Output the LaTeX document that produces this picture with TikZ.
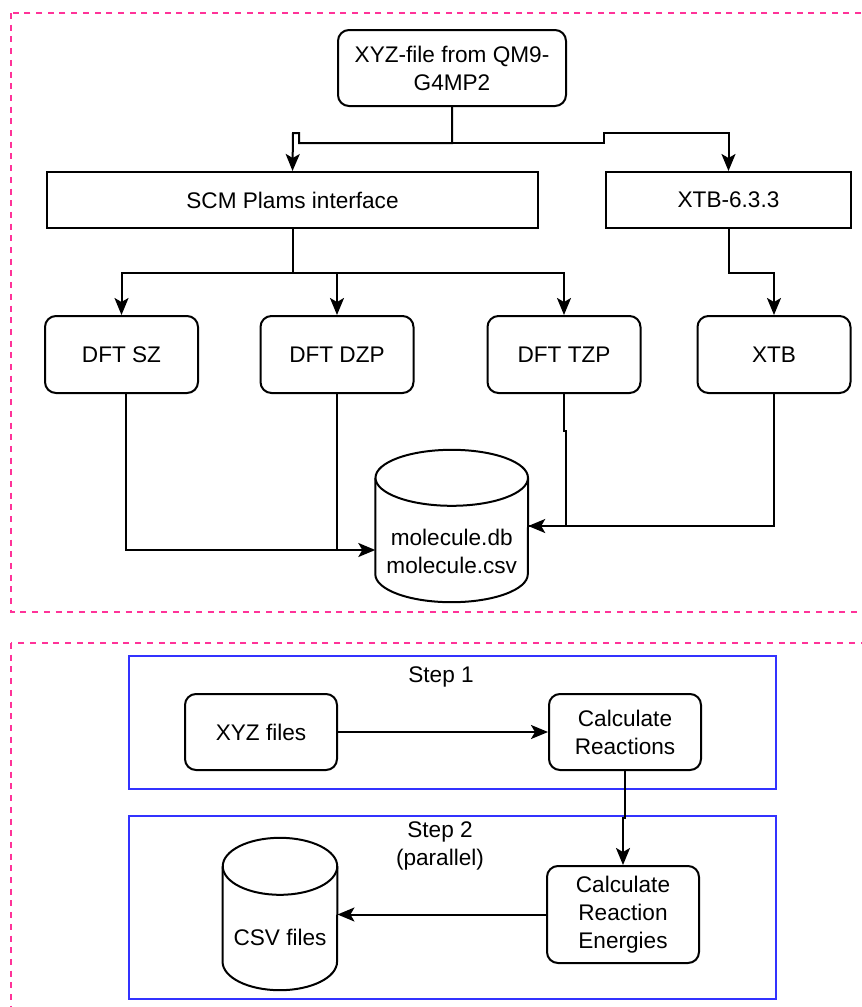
\documentclass[tikz,border=0pt]{standalone}
\usepackage{fontspec}
\setmainfont{Liberation Sans}
\usetikzlibrary{arrows.meta,calc}
\definecolor{pinkdash}{HTML}{FF3399}
\definecolor{stepblue}{HTML}{3333FF}
\tikzset{
  every node/.style={font=\fontsize{22.6}{28}\selectfont, align=center, inner sep=0pt},
  rbox/.style={draw=black, line width=2pt, rounded corners=11pt, fill=white},
  sbox/.style={draw=black, line width=2pt, fill=white},
  cylbody/.style={draw=black, line width=2pt, fill=white},
  wire/.style={line width=2pt},
  arr/.style={wire, -{Stealth[length=17pt,width=14pt,inset=4pt]}},
  group/.style={draw=pinkdash, line width=2pt, dash pattern=on 6pt off 5.7pt},
  stepframe/.style={draw=stepblue, line width=2pt},
}
\begin{document}
\begin{tikzpicture}[x=1pt,y=-1pt]
\useasboundingbox (0,0) rectangle (862,1007);
\clip (0,0) rectangle (862,1007);

% dashed groups
\draw[group] (11,13) rectangle (890,612);
\draw[group] (11,643) rectangle (890,1040);

% step frames
\node[stepframe, minimum width=647pt, minimum height=133pt] (s1frame) at (452.5,722.5) {};
\node[stepframe, minimum width=647pt, minimum height=183pt] (s2frame) at (452.5,907.5) {};
\node (s1lbl) at (441,677) {Step 1};
\node (s2lbl) at (440,846) {Step 2\\(parallel)};

% upper pipeline
\node[rbox, minimum width=228pt, minimum height=76pt] (top) at (452,68) {XYZ-file from QM9-\\G4MP2};
\node[sbox, minimum width=491pt, minimum height=56pt] (scm) at (292.5,200) {SCM Plams interface};
\node[sbox, minimum width=245pt, minimum height=56pt] (xtbv) at (728.5,200) {XTB-6.3.3};

\node[rbox, minimum width=153pt, minimum height=77pt] (dftsz) at (121.5,354.5) {DFT SZ};
\node[rbox, minimum width=153pt, minimum height=77pt] (dftdzp) at (337,354.5) {DFT DZP};
\node[rbox, minimum width=153pt, minimum height=77pt] (dfttzp) at (564,354.5) {DFT TZP};
\node[rbox, minimum width=153pt, minimum height=77pt] (xtb) at (774,354.5) {XTB};

% database cylinder
\node[minimum width=152.5pt, minimum height=152pt] (db) at (451.75,526) {};
\draw[cylbody] ([yshift=-28pt]db.north west) -- ([yshift=28pt]db.south west)
  arc[start angle=180, end angle=0, x radius=76.25, y radius=28]
  -- ([yshift=-28pt]db.north east);
\draw[cylbody] ([yshift=-28pt]db.north) ellipse[x radius=76.25, y radius=28];
\node (dbtext) at (451.75,551) {molecule.db\\molecule.csv};

% lower pipeline
\node[rbox, minimum width=152pt, minimum height=76pt] (xyz) at (261,732) {XYZ files};
\node[rbox, minimum width=152pt, minimum height=76pt] (calcr) at (625,732) {Calculate\\Reactions};
\node[rbox, minimum width=152pt, minimum height=97pt] (calcre) at (623,914.5) {Calculate\\Reaction\\Energies};

\node[minimum width=114.5pt, minimum height=152pt] (csv) at (280,914) {};
\draw[cylbody] ([yshift=-28.5pt]csv.north west) -- ([yshift=28.5pt]csv.south west)
  arc[start angle=180, end angle=0, x radius=57.25, y radius=28.5]
  -- ([yshift=-28.5pt]csv.north east);
\draw[cylbody] ([yshift=-28.5pt]csv.north) ellipse[x radius=57.25, y radius=28.5];
\node (csvtext) at (280,937) {CSV files};

% connectors, upper part
\draw[arr] (top.south) |- (299,143) |- (293,133) -- (scm.north);
\draw[arr] (top.south) |- (604,143) -- (604,133) -| (xtbv.north);

\draw[arr] (scm.south) -- ++(0,44) -| (dftsz.north);
\draw[arr] (scm.south) -- ++(0,44) -| (dftdzp.north);
\draw[arr] (scm.south) -- ++(0,44) -| (dfttzp.north);
\draw[arr] (xtbv.south) -- ++(0,44) -| (xtb.north);

\coordinate (dbin) at ([yshift=-24pt]db.west);
\draw[arr] ([xshift=4pt]dftsz.south) |- (dbin);
\draw[wire] (dftdzp.south) -- (dftdzp.south |- dbin);
\draw[wire] (dfttzp.south) -- ++(0,37) -- ++(2,0) |- (db.east);
\draw[arr] (xtb.south) |- (db.east);

% connectors, lower part
\draw[arr] (xyz.east) -- (calcr.west);
\draw[arr] (calcr.south) -- ++(0,47) -| (calcre.north);
\draw[arr] (calcre.west) -- (calcre.west -| csv.east);
\end{tikzpicture}
\end{document}
